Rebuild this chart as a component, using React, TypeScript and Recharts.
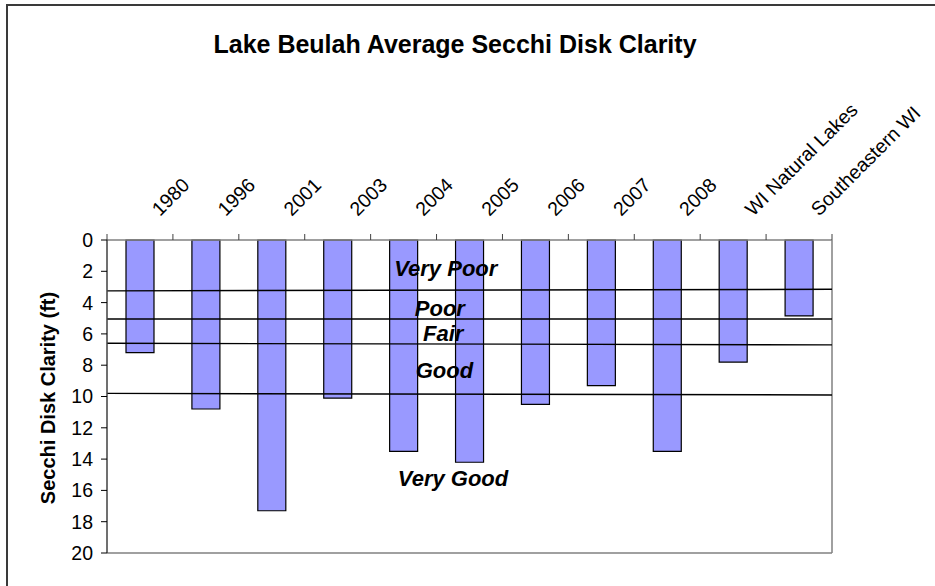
// Lake Beulah Secchi disk clarity — bars hang from the 0 ft line at the
// top (depth axis reversed), year labels sit above the plot, and the four
// trophic boundaries cross the chart with their zone names.

import { Bar, BarChart, Label, ReferenceDot, ReferenceLine, XAxis, YAxis } from "recharts";

const FONT = '"Liberation Sans", Arial, sans-serif';

const CATEGORIES = [
  "1980",
  "1996",
  "2001",
  "2003",
  "2004",
  "2005",
  "2006",
  "2007",
  "2008",
  "WI Natural Lakes",
  "Southeastern WI",
];
const CLARITY_FT = [7.2, 10.8, 17.3, 10.1, 13.5, 14.2, 10.5, 9.3, 13.5, 7.8, 4.85];

const Y_TICKS = [0, 2, 4, 6, 8, 10, 12, 14, 16, 18, 20];
// category boundaries on the x axis (0 = left edge, 11 = right edge);
// each category sits in the middle of its slot
const EDGE_TICKS = [0, 1, 2, 3, 4, 5, 6, 7, 8, 9, 10, 11];

// zone boundary lines, read at the left and right edge of the plot
const BOUNDARY_LEFT = [3.25, 5.05, 6.6, 9.8];
const BOUNDARY_RIGHT = [3.15, 5.05, 6.7, 9.9];

const ZONE_NAMES = ["Very Poor", "Poor", "Fair", "Good", "Very Good"];
const ZONE_X = [5.14, 5.05, 5.1, 5.12, 5.25];
const ZONE_Y = [1.8, 4.35, 5.95, 8.3, 15.2];

const data = CATEGORIES.map((name, i) => ({ name, slot: i + 0.5, clarity: CLARITY_FT[i] }));

function CategoryTick(props: any) {
  const { x, y, payload, width } = props;
  if (x == null || y == null || !payload) return null;
  const label = CATEGORIES[payload.value];
  if (label == null) return null;
  const half = (typeof width === "number" && width > 0 ? width : 725) / CATEGORIES.length / 2;
  const ax = x + half + 20;
  const ay = y - 17;
  return (
    <text
      x={ax}
      y={ay}
      transform={`rotate(-45 ${ax} ${ay})`}
      textAnchor="start"
      fontSize={19.5}
      fontFamily={FONT}
      fill="#000"
    >
      {label}
    </text>
  );
}

export default function App() {
  return (
    <div
      style={{
        position: "absolute",
        left: 0,
        top: 0,
        width: 935,
        height: 586,
        overflow: "hidden",
        background: "#fff",
        fontFamily: FONT,
      }}
    >
      <div
        style={{
          position: "absolute",
          left: 6,
          top: 4,
          width: 960,
          height: 620,
          border: "2px solid #3a3a3a",
        }}
      />
      <div
        style={{
          position: "absolute",
          left: 0,
          top: 31,
          width: 910,
          textAlign: "center",
          fontSize: 25,
          lineHeight: "26px",
          fontWeight: "bold",
          color: "#000",
        }}
      >
        Lake Beulah Average Secchi Disk Clarity
      </div>
      <div style={{ position: "absolute", left: 0, top: 0 }}>
        <BarChart
          width={935}
          height={586}
          data={data}
          margin={{ top: 204, right: 103, bottom: 33, left: 27 }}
        >
          <XAxis
            dataKey="slot"
            type="number"
            orientation="top"
            domain={[0, 11]}
            allowDataOverflow
            ticks={EDGE_TICKS}
            interval={0}
            height={36}
            tickSize={6}
            tickMargin={0}
            tick={<CategoryTick />}
            tickLine={{ stroke: "#404040" }}
            axisLine={{ stroke: "#808080", strokeWidth: 1.5 }}
          />
          <YAxis
            type="number"
            reversed
            domain={[0, 20]}
            ticks={Y_TICKS}
            interval={0}
            width={80}
            tickSize={6}
            tickMargin={8}
            tick={{ fontSize: 19.5, fill: "#000", fontFamily: FONT }}
            tickLine={{ stroke: "#000" }}
            axisLine={{ stroke: "#404040", strokeWidth: 1.5 }}
          >
            <Label
              content={({ viewBox }: any) => {
                const cx = viewBox.x + 20.5;
                const cy = viewBox.y + viewBox.height / 2 + 1.5;
                return (
                  <text
                    x={cx}
                    y={cy}
                    transform={`rotate(-90 ${cx} ${cy})`}
                    textAnchor="middle"
                    dominantBaseline="central"
                    fontSize={20}
                    fontWeight="bold"
                    fontFamily={FONT}
                    fill="#000"
                  >
                    Secchi Disk Clarity (ft)
                  </text>
                );
              }}
            />
          </YAxis>
          <Bar
            dataKey="clarity"
            barSize={28}
            fill="#9999FF"
            stroke="#000"
            strokeWidth={1.2}
            isAnimationActive={false}
          />
          <ReferenceLine y={20} stroke="#808080" strokeWidth={1.5} />
          <ReferenceLine x={11} stroke="#808080" strokeWidth={1.5} />
          {BOUNDARY_LEFT.map((yl, i) => (
            <ReferenceLine
              key={`b${i}`}
              segment={[
                { x: 0, y: yl },
                { x: 11, y: BOUNDARY_RIGHT[i] },
              ]}
              stroke="#000"
              strokeWidth={1.4}
            />
          ))}
          {ZONE_NAMES.map((name, i) => (
            <ReferenceDot
              key={name}
              x={ZONE_X[i]}
              y={ZONE_Y[i]}
              r={0}
              fill="none"
              stroke="none"
              label={{
                value: name,
                position: "center",
                fontSize: 22,
                fontWeight: "bold",
                fontStyle: "italic",
                fontFamily: FONT,
                fill: "#000",
              }}
            />
          ))}
        </BarChart>
      </div>
    </div>
  );
}
